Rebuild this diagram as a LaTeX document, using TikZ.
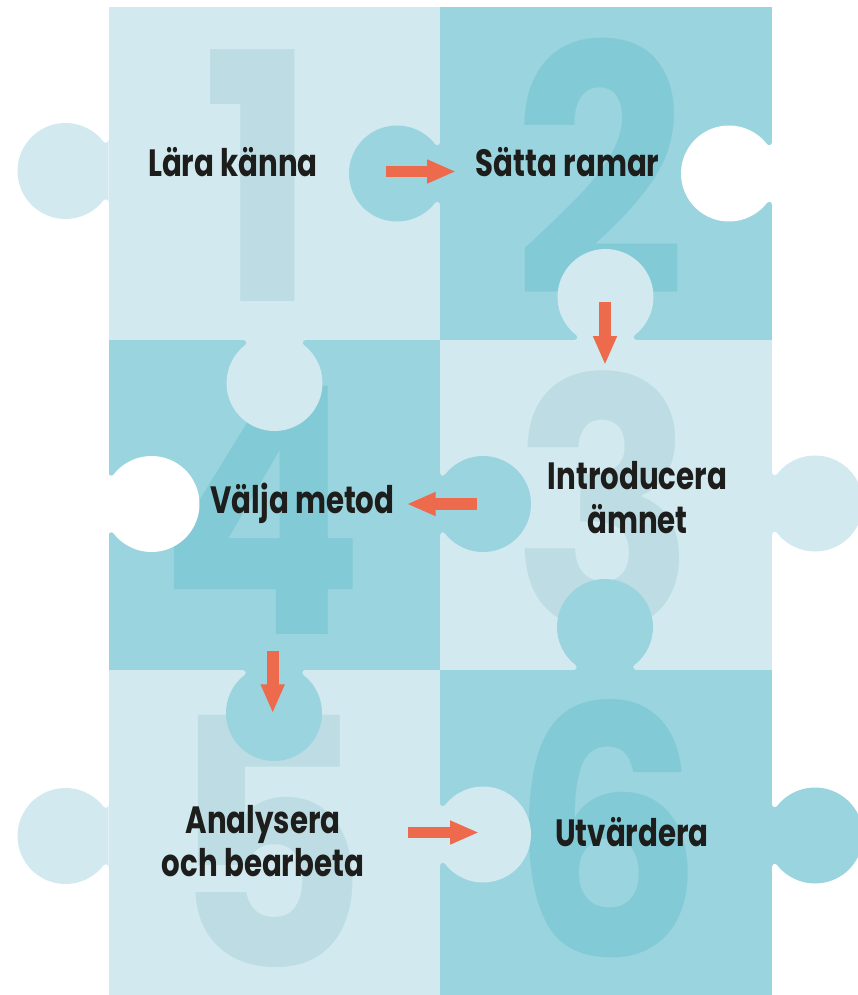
\documentclass[tikz,border=0pt]{standalone}
\usepackage{fontspec}
\setmainfont{Poppins}
\newfontfamily\labfont{Poppins}[FakeStretch=0.77]
\newfontfamily\digfont{Poppins}[FakeStretch=0.88]
\usetikzlibrary{arrows.meta}
\definecolor{lightc}{HTML}{D1E9EF}
\definecolor{darkc}{HTML}{9AD4DE}
\definecolor{lightd}{HTML}{BDDCE4}
\definecolor{darkd}{HTML}{83CAD7}
\definecolor{orangec}{HTML}{EE6A4C}
\definecolor{textc}{HTML}{1D1D1B}
\newcommand\knobpiece[4]{%
  \fill[#4, shift={(#1,#2)}, rotate=#3]
    (0,-31) arc[start angle=180, end angle=37.7, radius=2.78]
    arc[start angle=-142.38, end angle=142.38, radius=48]
    arc[start angle=-37.7, end angle=-180, radius=2.78] -- cycle;}
\begin{document}
\begin{tikzpicture}[x=1pt, y=-1pt,
  lab/.style={font=\labfont\bfseries\fontsize{38}{43.5}\selectfont, text=textc, inner sep=0pt, align=center},
  dig/.style={font=\digfont\bfseries\fontsize{345}{345}\selectfont, inner sep=0pt, anchor=base},
  arr/.style={draw=orangec, line width=11.6pt, -{Triangle[length=29pt,width=22pt]}}]
\useasboundingbox (0,0) rectangle (857,995);
% cells
\fill[lightc] (108.5,7.5) rectangle (440,340);
\fill[darkc]  (440,7.5) rectangle (772,340);
\fill[darkc]  (108.5,340) rectangle (440,670);
\fill[lightc] (440,340) rectangle (772,670);
\fill[lightc] (108.5,670) rectangle (440,1000);
\fill[darkc]  (440,670) rectangle (772,1000);
% big digits
\node[dig, text=lightd] (d1) at (259.5,301.7) {1};
\node[dig, text=darkd]  (d2) at (600,295.7) {2};
\node[dig, text=lightd] (d3) at (604,628) {3};
\node[dig, text=darkd]  (d4) at (262,634.3) {4};
\node[dig, text=lightd] (d5) at (269.5,967) {5};
\node[dig, text=darkd]  (d6) at (607,956) {6};
% knobs and holes
\knobpiece{108.5}{171}{180}{lightc}
\knobpiece{440}{173.5}{180}{darkc}
\knobpiece{772}{173.5}{180}{white}
\knobpiece{605.5}{340}{90}{lightc}
\knobpiece{274.5}{340}{-90}{lightc}
\knobpiece{108.5}{504}{0}{white}
\knobpiece{440}{504}{0}{darkc}
\knobpiece{772}{503.5}{0}{lightc}
\knobpiece{605}{670}{90}{darkc}
\knobpiece{274}{670}{-90}{darkc}
\knobpiece{108.5}{836}{180}{lightc}
\knobpiece{440}{834.5}{0}{lightc}
\knobpiece{772}{835.5}{0}{darkc}
% labels
\node[lab, anchor=base] (n1) at (233,176) {Lära känna};
\node[lab, anchor=base] (n2) at (567.7,176) {Sätta ramar};
\node[lab, anchor=base] (n3) at (637.5,533.3) {Introducera\\ämnet};
\node[lab, anchor=base] (n4) at (302.5,513.3) {Välja metod};
\node[lab, anchor=base] (n5) at (263,876.7) {Analysera\\och bearbeta};
\node[lab, anchor=base] (n6) at (632,846.7) {Utvärdera};
% arrow ends
\coordinate (a1s) at (385.7,171.5); \coordinate (a1e) at (456,171.5);
\coordinate (a2s) at (605,302.3);   \coordinate (a2e) at (605,365);
\coordinate (a3s) at (476.7,504);   \coordinate (a3e) at (406.7,504);
\coordinate (a4s) at (272.7,650.7); \coordinate (a4e) at (272.7,713.3);
\coordinate (a5s) at (408.3,832.5); \coordinate (a5e) at (479,832.5);
\draw[arr] (a1s) -- (a1e);
\draw[arr] (a2s) -- (a2e);
\draw[arr] (a3s) -- (a3e);
\draw[arr] (a4s) -- (a4e);
\draw[arr] (a5s) -- (a5e);
\end{tikzpicture}
\end{document}
